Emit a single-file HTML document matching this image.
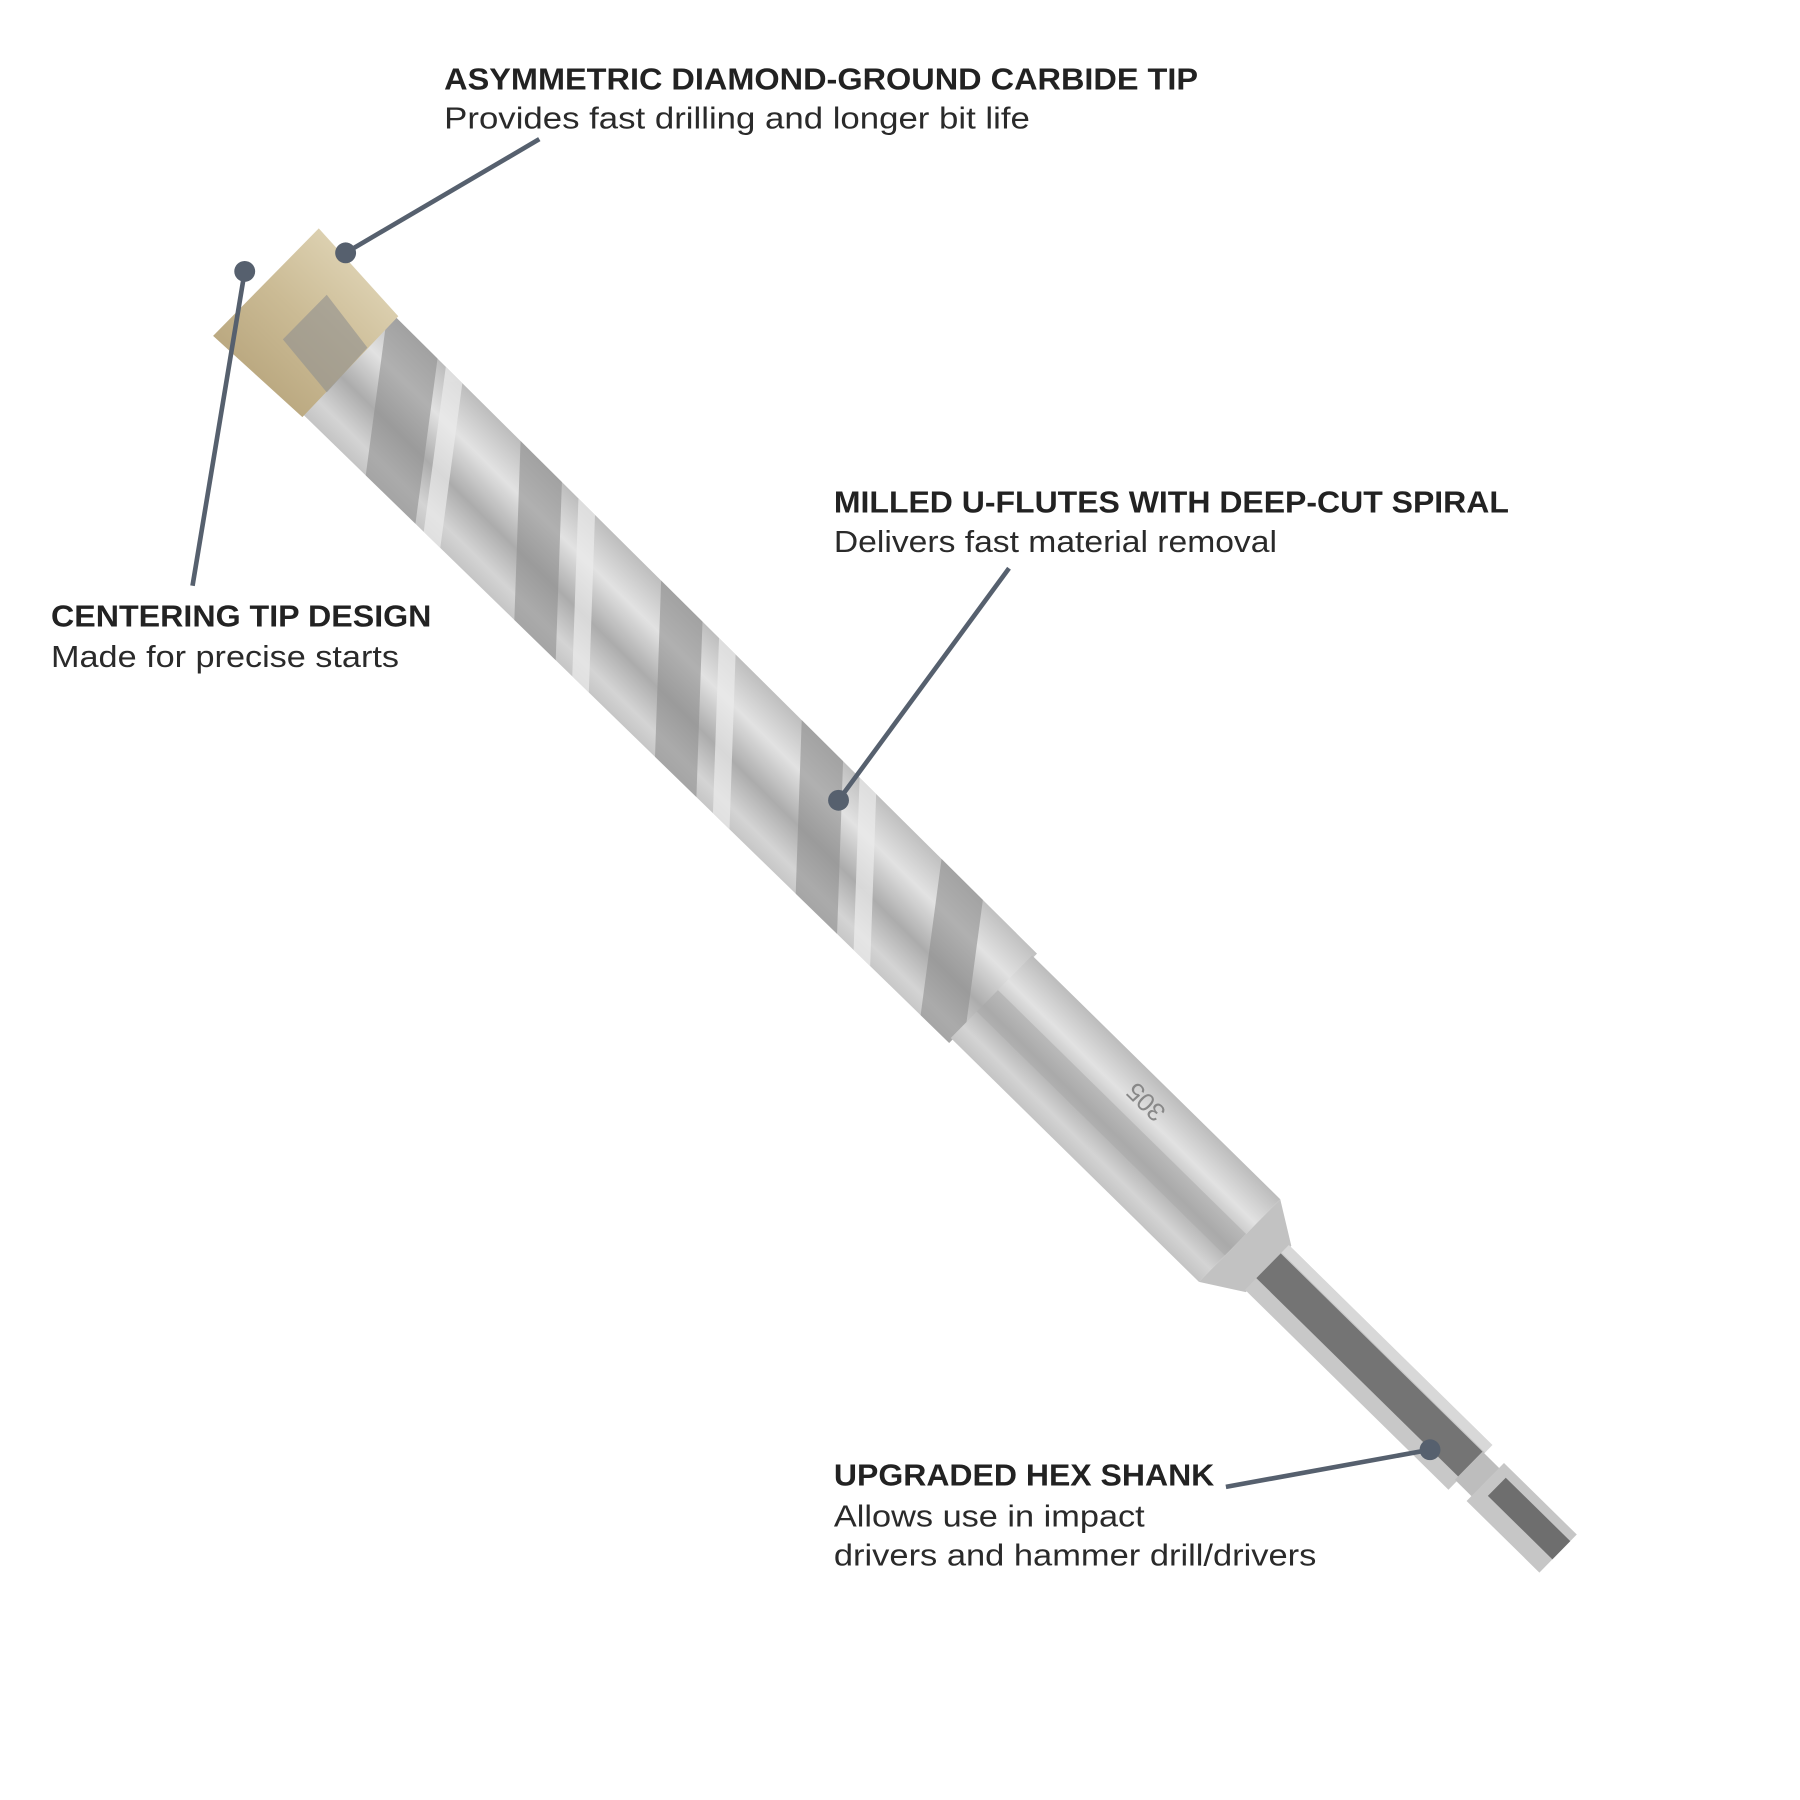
<!DOCTYPE html>
<html><head><meta charset="utf-8"><style>
html,body{margin:0;padding:0;background:#fff;width:1800px;height:1800px;overflow:hidden}
svg{display:block}
.b{font-family:"Liberation Sans",sans-serif;font-weight:bold;font-size:26px;fill:#222}
.r{font-family:"Liberation Sans",sans-serif;font-size:26px;fill:#2a2a2a}
</style></head><body>
<svg width="1800" height="1800" viewBox="0 0 1552 1552" xmlns="http://www.w3.org/2000/svg">
<defs>
<linearGradient id="cyl" x1="0" y1="0" x2="0" y2="1">
<stop offset="0" stop-color="#bcbcbc"/><stop offset="0.3" stop-color="#e2e2e2"/><stop offset="0.6" stop-color="#acacac"/><stop offset="0.85" stop-color="#d4d4d4"/><stop offset="1" stop-color="#c4c4c4"/>
</linearGradient>
<linearGradient id="gold" x1="0" y1="0" x2="0" y2="1">
<stop offset="0" stop-color="#dcd0b0"/><stop offset="0.5" stop-color="#cbbb95"/><stop offset="1" stop-color="#bba981"/>
</linearGradient>
<clipPath id="fl"><path d="M60,-58 L850,-54 L850,54 L60,58 Z"/></clipPath>
</defs>
<g transform="translate(250,265) rotate(44.5)">
  <path d="M60,-58 L850,-54 L850,54 L60,58 Z" fill="url(#cyl)"/>
  <g clip-path="url(#fl)" fill="#909090" opacity="0.6">
    <path d="M60,-60 L120,-60 L210,60 L150,60 Z"/>
    <path d="M220,-60 L270,-60 L380,60 L330,60 Z"/>
    <path d="M390,-60 L440,-60 L550,60 L500,60 Z"/>
    <path d="M560,-60 L610,-60 L720,60 L670,60 Z"/>
    <path d="M730,-60 L780,-60 L870,60 L820,60 Z"/>
  </g>
  <g clip-path="url(#fl)" fill="#ececec" opacity="0.7">
    <path d="M130,-60 L150,-60 L240,60 L220,60 Z"/>
    <path d="M290,-60 L310,-60 L420,60 L400,60 Z"/>
    <path d="M460,-60 L480,-60 L590,60 L570,60 Z"/>
    <path d="M630,-60 L650,-60 L760,60 L740,60 Z"/>
  </g>
  <rect x="848" y="-50" width="300" height="100" fill="url(#cyl)"/>
  <rect x="848" y="-8" width="300" height="26" fill="#a8a8a8" opacity="0.5"/>
  <text x="995" y="-22" font-family="Liberation Sans" font-size="22" fill="#888" transform="rotate(180 1010 -29)">305</text>
  <path d="M1148,-50 L1183,-28 L1183,28 L1148,50 Z" fill="#c2c2c2"/>
  <rect x="1181" y="-27" width="246" height="54" fill="#c8c8c8"/>
  <rect x="1181" y="-17" width="244" height="30" fill="#747474"/>
  <rect x="1181" y="-27" width="246" height="9" fill="#d8d8d8"/>
  <rect x="1425" y="-17" width="22" height="34" fill="#bdbdbd"/>
  <rect x="1445" y="-23" width="88" height="46" fill="#c6c6c6"/>
  <rect x="1455" y="-15" width="78" height="22" fill="#6e6e6e"/>
  <path d="M-30,-66 L72,-60 L74,60 L-30,64 Z" fill="url(#gold)"/>
  <path d="M15,-30 L72,-22 L74,30 L15,24 Z" fill="#8f8f8f" opacity="0.6"/>
</g>
<g stroke="#56606e" stroke-width="4" fill="none">
  <line x1="211" y1="234" x2="166" y2="505"/>
  <line x1="298" y1="218" x2="465" y2="120"/>
  <line x1="723" y1="690" x2="870" y2="490"/>
  <line x1="1233" y1="1250" x2="1057" y2="1282"/>
</g>
<g fill="#56606e">
  <circle cx="211" cy="234" r="9"/><circle cx="298" cy="218" r="9"/>
  <circle cx="723" cy="690" r="9"/><circle cx="1233" cy="1250" r="9"/>
</g>
<text class="b" x="383" y="77" textLength="650" lengthAdjust="spacingAndGlyphs">ASYMMETRIC DIAMOND-GROUND CARBIDE TIP</text>
<text class="r" x="383" y="111" textLength="505" lengthAdjust="spacingAndGlyphs">Provides fast drilling and longer bit life</text>
<text class="b" x="719" y="442" textLength="582" lengthAdjust="spacingAndGlyphs">MILLED U-FLUTES WITH DEEP-CUT SPIRAL</text>
<text class="r" x="719" y="476" textLength="382" lengthAdjust="spacingAndGlyphs">Delivers fast material removal</text>
<text class="b" x="44" y="540" textLength="328" lengthAdjust="spacingAndGlyphs">CENTERING TIP DESIGN</text>
<text class="r" x="44" y="575" textLength="300" lengthAdjust="spacingAndGlyphs">Made for precise starts</text>
<text class="b" x="719" y="1281" textLength="328" lengthAdjust="spacingAndGlyphs">UPGRADED HEX SHANK</text>
<text class="r" x="719" y="1316" textLength="268" lengthAdjust="spacingAndGlyphs">Allows use in impact</text>
<text class="r" x="719" y="1350" textLength="416" lengthAdjust="spacingAndGlyphs">drivers and hammer drill/drivers</text>
</svg>
</body></html>
